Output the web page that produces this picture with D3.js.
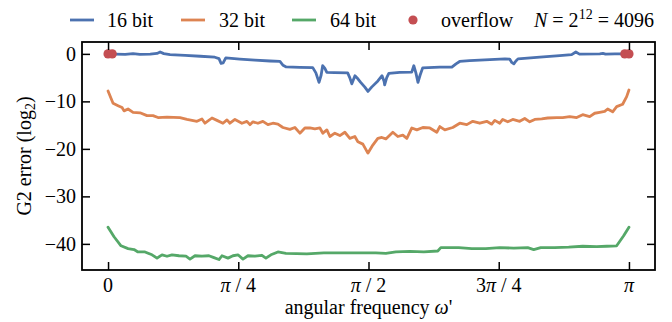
<!DOCTYPE html>
<html>
<head>
<meta charset="utf-8">
<script src="https://cdn.jsdelivr.net/npm/d3@7/dist/d3.min.js"></script>
<style>
  html, body { margin: 0; padding: 0; background: #fff; }
  svg { display: block; }
</style>
</head>
<body>
<svg id="chart" width="672" height="322"></svg>
<script>
// ---- data (x in units of pi, y = log2 error) ----
const x16 = [0,0.013,0.033,0.048,0.061,0.081,0.094,0.1,0.107,0.119,0.148,0.177,0.205,0.213,0.217,0.221,0.226,0.253,0.282,0.311,0.33,0.336,0.342,0.368,0.393,0.399,0.405,0.409,0.412,0.416,0.42,0.435,0.46,0.464,0.468,0.474,0.48,0.485,0.493,0.499,0.506,0.518,0.526,0.53,0.531,0.535,0.539,0.56,0.583,0.587,0.591,0.595,0.599,0.604,0.637,0.66,0.668,0.675,0.694,0.733,0.762,0.771,0.775,0.779,0.783,0.787,0.829,0.867,0.89,0.898,0.905,0.944,0.95,0.955,0.973,1.0];
const y16 = [0,-0.05,-0.1,0.05,-0.1,-0.05,0.1,0.4,0.05,-0.15,-0.3,-0.5,-0.7,-1.0,-2.0,-1.9,-0.85,-1.1,-1.3,-1.5,-1.6,-2.4,-2.75,-2.85,-2.9,-4.0,-6.0,-4.5,-2.5,-3.0,-3.9,-3.95,-4.0,-5.0,-6.3,-4.6,-5.3,-6.0,-7.0,-7.9,-7.0,-5.7,-4.6,-5.8,-6.5,-5.0,-4.1,-3.9,-3.85,-2.5,-4.0,-6.0,-4.5,-2.95,-2.8,-2.8,-2.1,-1.6,-1.4,-1.2,-1.05,-1.1,-1.8,-2.1,-1.5,-1.05,-0.7,-0.35,-0.15,0.4,-0.05,0.0,0.1,-0.05,0.0,0.0];

const x32 = [0,0.0096,0.0192,0.0269,0.0307,0.0384,0.048,0.0614,0.0748,0.0863,0.0959,0.1132,0.1381,0.1515,0.1707,0.1803,0.1861,0.1995,0.2091,0.2206,0.2283,0.234,0.2436,0.257,0.2666,0.2724,0.2782,0.2877,0.2973,0.3069,0.3165,0.3261,0.3357,0.3491,0.3587,0.3683,0.3779,0.3875,0.3971,0.4067,0.4124,0.4201,0.4259,0.4354,0.445,0.4546,0.4642,0.4738,0.4796,0.4892,0.4988,0.5083,0.5179,0.5256,0.5333,0.5467,0.5563,0.5659,0.5736,0.5832,0.5928,0.6043,0.6177,0.6311,0.6369,0.6465,0.6618,0.6752,0.6887,0.7002,0.7136,0.727,0.7366,0.7424,0.752,0.7577,0.7673,0.7769,0.7903,0.7999,0.8095,0.8191,0.8325,0.8441,0.8613,0.8728,0.8863,0.8997,0.9112,0.9246,0.9342,0.9438,0.9534,0.9591,0.9687,0.9764,0.9879,0.9956,1.0];
const y32 = [-7.8,-10.4,-10.9,-11.3,-12.0,-11.6,-12.3,-12.4,-13.0,-13.0,-13.4,-13.3,-13.4,-13.8,-14.2,-13.7,-14.6,-13.5,-14.0,-14.6,-13.9,-14.6,-13.8,-14.6,-14.2,-14.9,-14.3,-14.6,-14.2,-14.9,-14.6,-14.8,-15.5,-15.9,-15.5,-16.7,-15.6,-15.6,-15.8,-15.6,-16.7,-16.0,-17.4,-16.7,-17.2,-16.5,-17.8,-17.4,-18.5,-19.0,-20.9,-19.2,-17.8,-17.6,-17.9,-16.5,-17.4,-17.1,-17.8,-15.6,-16.0,-15.5,-15.6,-16.5,-15.3,-16.0,-15.5,-14.6,-14.9,-14.2,-14.6,-14.2,-14.8,-14.0,-14.6,-13.8,-14.3,-13.8,-14.2,-13.6,-14.3,-13.8,-13.7,-13.5,-13.4,-13.4,-13.2,-13.4,-12.8,-13.2,-12.5,-12.3,-12.1,-11.6,-12.2,-11.1,-10.6,-9.0,-7.6];

const x64 = [0,0.0115,0.0249,0.0384,0.0499,0.0575,0.071,0.0844,0.094,0.1036,0.1132,0.1228,0.1362,0.1496,0.1573,0.1669,0.1803,0.1937,0.2033,0.2129,0.2187,0.2302,0.2398,0.2494,0.259,0.2686,0.282,0.2954,0.3031,0.3127,0.3261,0.3415,0.3817,0.4143,0.447,0.4796,0.5141,0.5333,0.5525,0.5793,0.6062,0.633,0.6388,0.6733,0.6983,0.7251,0.752,0.7788,0.8057,0.8172,0.8306,0.8575,0.8843,0.9112,0.938,0.9572,0.9764,0.9898,1.0];
const y64 = [-36.5,-38.5,-40.4,-41.0,-41.2,-41.7,-41.7,-42.3,-43.0,-42.3,-42.6,-42.3,-42.5,-42.6,-43.2,-42.5,-42.6,-42.5,-42.9,-43.3,-42.5,-43.0,-42.5,-42.3,-43.2,-42.5,-42.6,-42.4,-43.0,-42.3,-41.7,-42.0,-42.1,-41.9,-41.9,-41.9,-41.9,-42.0,-41.7,-41.6,-41.7,-41.5,-40.8,-40.8,-41.0,-41.0,-40.8,-40.9,-40.8,-41.2,-40.8,-40.8,-40.7,-40.5,-40.6,-40.5,-40.4,-38.3,-36.5];

const xOverflow = [0, 0.008, 0.992, 1.0];
const yOverflow = [0, 0, 0, 0];

const seriesNames = ["16 bit", "32 bit", "64 bit"];
const xTickValues = [0, 0.25, 0.5, 0.75, 1];
const xTickLabels = [["0"], ["π", " / 4"], ["π", " / 2"], ["3", "π", " / 4"], ["π"]];
const yTickValues = [0, -10, -20, -30, -40];

// ---- layout ----
const colors = ["#4C72B0", "#DD8452", "#55A868"];
const red = "#C44E52";
const L = 82, R = 655, T = 42, B = 270;
const FS = 20;
const FONT = "Liberation Serif, DejaVu Serif, Noto Serif, serif";

const svg = d3.select("#chart");
const x = d3.scaleLinear().domain([-0.05, 1.05]).range([L, R]);
const y = d3.scaleLinear().domain([-45.5, 2.5]).range([B, T]);

const line = d3.line().x(d => x(d[0])).y(d => y(d[1]));
const series = [
  d3.zip(x16, y16),
  d3.zip(x32, y32),
  d3.zip(x64, y64)
];

const plot = svg.append("g");
series.forEach((s, i) => {
  plot.append("path").datum(s)
    .attr("d", line)
    .attr("fill", "none")
    .attr("stroke", colors[i])
    .attr("stroke-width", 2.8)
    .attr("stroke-linejoin", "round")
    .attr("stroke-linecap", "round");
});
plot.selectAll("circle.of").data(d3.zip(xOverflow, yOverflow)).join("circle")
  .attr("class", "of")
  .attr("cx", d => x(d[0])).attr("cy", d => y(d[1]))
  .attr("r", 4.6).attr("fill", red);

// ---- axes (ticks inward on all sides) ----
const tickLen = 8;
const fmtY = d => (d < 0 ? "\u2212" + Math.abs(d) : String(d));

const axB = svg.append("g").attr("transform", `translate(0,${B})`)
  .call(d3.axisBottom(x).tickValues(xTickValues).tickSizeInner(-tickLen).tickSizeOuter(0).tickFormat(""));
const axT = svg.append("g").attr("transform", `translate(0,${T})`)
  .call(d3.axisTop(x).tickValues(xTickValues).tickSizeInner(-tickLen).tickSizeOuter(0).tickFormat(""));
const axL = svg.append("g").attr("transform", `translate(${L},0)`)
  .call(d3.axisLeft(y).tickValues(yTickValues).tickSizeInner(-tickLen).tickSizeOuter(0).tickFormat(""));
const axR = svg.append("g").attr("transform", `translate(${R},0)`)
  .call(d3.axisRight(y).tickValues(yTickValues).tickSizeInner(-tickLen).tickSizeOuter(0).tickFormat(""));
[axB, axT, axL, axR].forEach(a => {
  a.select(".domain").remove();
  a.selectAll(".tick line").attr("stroke", "#000").attr("stroke-width", 1.5);
});

svg.append("rect").attr("x", L).attr("y", T).attr("width", R - L).attr("height", B - T)
  .attr("fill", "none").attr("stroke", "#000").attr("stroke-width", 1.8);

const txt = (sel) => sel.style("font-family", FONT).attr("fill", "#000");

// y tick labels
svg.append("g").selectAll("text").data(yTickValues).join("text")
  .call(txt)
  .attr("x", L - 6).attr("y", d => y(d) + 7)
  .attr("text-anchor", "end").attr("font-size", FS)
  .text(fmtY);

// x tick labels
const xl = svg.append("g").selectAll("text").data(xTickValues).join("text")
  .call(txt)
  .attr("x", d => x(d)).attr("y", B + 22)
  .attr("text-anchor", "middle").attr("font-size", FS);
xl.each(function(d, i) {
  const t = d3.select(this);
  xTickLabels[i].forEach(part => {
    t.append("tspan").attr("font-style", part === "π" ? "italic" : "normal").text(part);
  });
});

// axis labels
const xlab = svg.append("text").call(txt).attr("x", (L + R) / 2).attr("y", 314)
  .attr("text-anchor", "middle").attr("font-size", FS);
xlab.append("tspan").text("angular frequency ");
xlab.append("tspan").attr("font-style", "italic").text("ω");
xlab.append("tspan").text("'");

const ylab = svg.append("text").call(txt)
  .attr("transform", `translate(31,${(T + B) / 2}) rotate(-90)`)
  .attr("text-anchor", "middle").attr("font-size", FS);
ylab.append("tspan").text("G2 error (log");
ylab.append("tspan").attr("font-size", 14).attr("dy", 4).text("2");
ylab.append("tspan").attr("dy", -4).text(")");

// ---- legend ----
const legY = 20;
const leg = svg.append("g");
const legItems = [
  { x0: 70, tx: 107 },
  { x0: 181, tx: 219 },
  { x0: 292, tx: 330 }
];
legItems.forEach((it, i) => {
  leg.append("line").attr("x1", it.x0).attr("x2", it.x0 + 24)
    .attr("y1", legY).attr("y2", legY)
    .attr("stroke", colors[i]).attr("stroke-width", 2.8);
  leg.append("text").call(txt).attr("x", it.tx).attr("y", legY + 7).attr("font-size", FS).text(seriesNames[i]);
});
leg.append("circle").attr("cx", 413).attr("cy", legY).attr("r", 4.6).attr("fill", red);
leg.append("text").call(txt).attr("x", 441).attr("y", legY + 7).attr("font-size", FS).text("overflow");

const nt = leg.append("text").call(txt).attr("x", 534).attr("y", legY + 7).attr("font-size", FS);
nt.append("tspan").attr("font-style", "italic").text("N");
nt.append("tspan").text(" = 2");
nt.append("tspan").attr("font-size", 14).attr("dy", -8).text("12");
nt.append("tspan").attr("dy", 8).text(" = 4096");
</script>
</body>
</html>
